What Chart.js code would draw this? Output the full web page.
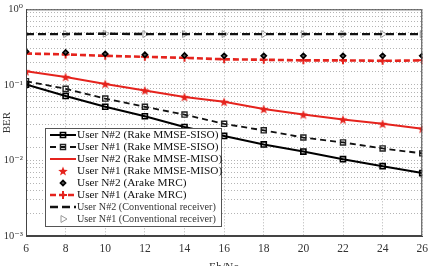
<!DOCTYPE html>
<html>
<head>
<meta charset="utf-8">
<script src="https://cdn.jsdelivr.net/npm/chart.js@4/dist/chart.umd.min.js"></script>
<style>
  html, body { margin: 0; padding: 0; background: #fff; }
</style>
</head>
<body>
<canvas id="berChart" width="434" height="266"></canvas>
<script>
// Eb/No axis (dB)
const ebNo = [6, 8, 10, 12, 14, 16, 18, 20, 22, 24, 26];

// BER curves
const sisoUser2 = [0.101, 0.0713, 0.0513, 0.0384, 0.0277, 0.0211, 0.0163, 0.0131, 0.0104, 0.0084, 0.0068];
const sisoUser1 = [0.112, 0.0887, 0.0658, 0.0513, 0.0404, 0.0305, 0.0250, 0.0201, 0.0173, 0.0144, 0.0124];
const misoUser2 = [0.151, 0.127, 0.103, 0.0843, 0.069, 0.0596, 0.0478, 0.0404, 0.0348, 0.0305, 0.0263];
const misoUser1 = [0.151, 0.127, 0.103, 0.0843, 0.069, 0.0596, 0.0478, 0.0404, 0.0348, 0.0305, 0.0263];
const mrcUser2 = [0.276, 0.268, 0.257, 0.250, 0.244, 0.242, 0.242, 0.242, 0.242, 0.242, 0.242];
const mrcUser1 = [0.260, 0.253, 0.242, 0.235, 0.228, 0.218, 0.215, 0.211, 0.211, 0.208, 0.211];
const convUser2 = [0.47, 0.47, 0.475, 0.47, 0.47, 0.47, 0.47, 0.47, 0.47, 0.47, 0.47];
const convUser1 = [0.47, 0.47, 0.475, 0.47, 0.47, 0.47, 0.47, 0.47, 0.47, 0.47, 0.47];

const labels = [
  "User N#2 (Rake MMSE-SISO)",
  "User N#1 (Rake MMSE-SISO)",
  "User N#2 (Rake MMSE-MISO)",
  "User N#1 (Rake MMSE-MISO)",
  "User N#2 (Arake MRC)",
  "User N#1 (Arake MRC)",
  "User N#2 (Conventional receiver)",
  "User N#1 (Conventional receiver)",
];

const RED = "#e5231d";
const SERIF = "'Liberation Serif', 'DejaVu Serif', serif";

// filled red star used as point style
function makeStar(size, color) {
  const c = document.createElement("canvas");
  c.width = size; c.height = size;
  const g = c.getContext("2d");
  const cx = size / 2, cy = size / 2 + 0.5, ro = size / 2, ri = ro * 0.42;
  g.beginPath();
  for (let i = 0; i < 10; i++) {
    const r = i % 2 === 0 ? ro : ri;
    const a = -Math.PI / 2 + i * Math.PI / 5;
    g.lineTo(cx + r * Math.cos(a), cy + r * Math.sin(a));
  }
  g.closePath();
  g.fillStyle = color;
  g.fill();
  return c;
}
const starImg = makeStar(10, RED);

const sup = { "0": "\u2070", "1": "\u00b9", "2": "\u00b2", "3": "\u00b3", "-": "\u207b" };
function tenPow(e) {
  return "10" + String(e).split("").map(ch => sup[ch]).join("");
}

function pts(arr) {
  return arr.map((v, i) => ({ x: ebNo[i], y: v }));
}

const datasets = [
  { label: labels[0], data: pts(sisoUser2), borderColor: "#000", borderWidth: 2,
    pointStyle: "rect", pointRadius: 3.6, pointBorderWidth: 1.6, pointBorderColor: "#000", pointBackgroundColor: "rgba(0,0,0,0)" },
  { label: labels[1], data: pts(sisoUser1), borderColor: "#111", borderWidth: 1.8, borderDash: [6, 4],
    pointStyle: "rect", pointRadius: 3.6, pointBorderWidth: 1.4, pointBorderColor: "#222", pointBackgroundColor: "rgba(0,0,0,0)" },
  { label: labels[2], data: pts(misoUser2), borderColor: RED, borderWidth: 2, pointRadius: 0 },
  { label: labels[3], data: pts(misoUser1), showLine: false, pointStyle: starImg, pointRadius: 5 },
  { label: labels[4], data: pts(mrcUser2), showLine: false, pointStyle: "rectRot", pointRadius: 2.6,
    pointBorderWidth: 1.6, pointBorderColor: "#000", pointBackgroundColor: "#555" },
  { label: labels[5], data: pts(mrcUser1), borderColor: RED, borderWidth: 2.6, borderDash: [6, 3],
    pointStyle: "cross", pointRadius: 4, pointBorderWidth: 2, pointBorderColor: RED },
  { label: labels[6], data: pts(convUser2), borderColor: "#111", borderWidth: 2.4, borderDash: [8, 4], pointRadius: 0 },
  { label: labels[7], data: pts(convUser1), showLine: false, pointStyle: "triangle", pointRotation: 90,
    pointRadius: 4, pointBorderWidth: 1, pointBorderColor: "#999", pointBackgroundColor: "rgba(0,0,0,0)" },
];

// box around the axes
const frame = {
  id: "frame",
  afterDatasetsDraw(chart) {
    const { ctx, chartArea: a } = chart;
    ctx.save();
    ctx.strokeStyle = "#444";
    ctx.lineWidth = 1;
    ctx.strokeRect(a.left + 0.5, a.top + 0.5, a.right - a.left - 1, a.bottom - a.top - 1);
    ctx.restore();
  },
};

// MATLAB-like legend inside the axes
const boxLegend = {
  id: "boxLegend",
  afterDraw(chart) {
    const ctx = chart.ctx;
    const x0 = 45, y0 = 128, w = 176, h = 98, row = 12;
    ctx.save();
    ctx.fillStyle = "#fff";
    ctx.fillRect(x0, y0, w, h);
    ctx.strokeStyle = "#555";
    ctx.lineWidth = 1;
    ctx.strokeRect(x0 + 0.5, y0 + 0.5, w, h);

    chart.data.datasets.forEach((ds, i) => {
      const y = y0 + 7 + i * row;
      if (ds.showLine !== false && ds.borderWidth) {
        ctx.save();
        ctx.strokeStyle = ds.borderColor;
        ctx.lineWidth = ds.borderWidth;
        ctx.setLineDash(ds.borderDash || []);
        ctx.beginPath();
        ctx.moveTo(50, y);
        ctx.lineTo(76, y);
        ctx.stroke();
        ctx.restore();
      }
      if (ds.pointRadius) {
        ctx.save();
        ctx.strokeStyle = ds.pointBorderColor || "#000";
        ctx.fillStyle = ds.pointBackgroundColor || "rgba(0,0,0,0)";
        ctx.lineWidth = ds.pointBorderWidth || 1;
        Chart.helpers.drawPoint(ctx, {
          pointStyle: ds.pointStyle,
          rotation: ds.pointRotation || 0,
          radius: ds.pointRadius,
          borderWidth: ds.pointBorderWidth || 1,
        }, 63, y);
        ctx.restore();
      }
      ctx.fillStyle = i >= 6 ? "#333" : "#111";
      ctx.font = (i >= 6 ? "10.2px " : "11.3px ") + SERIF;
      ctx.textBaseline = "middle";
      ctx.fillText(ds.label, 77, y + 0.5);
    });
    ctx.restore();
  },
};

new Chart(document.getElementById("berChart"), {
  type: "line",
  data: { datasets },
  options: {
    responsive: false,
    animation: false,
    events: [],
    layout: { padding: { top: 5, right: 7, left: 0, bottom: 0 } },
    plugins: { legend: { display: false }, tooltip: { enabled: false } },
    scales: {
      x: {
        type: "linear",
        min: 6,
        max: 26,
        afterFit: (s) => { s.height = 30; },
        ticks: { stepSize: 2, color: "#333", padding: 6, font: { family: SERIF, size: 11.5 } },
        grid: { color: "#b4b4b4", lineWidth: 1, drawTicks: false },
        border: { display: true, color: "#444", dash: [1, 2] },
        title: { display: true, text: "Eb/No", color: "#333", font: { family: SERIF, size: 11.5 },
                 padding: { top: 0, bottom: -9 } },
      },
      y: {
        type: "logarithmic",
        min: 0.001,
        max: 1,
        afterFit: (s) => { s.width = 26; },
        ticks: {
          autoSkip: false,
          color: "#333",
          padding: 3,
          font: { family: SERIF, size: 10.5 },
          callback: (v) => {
            const e = Math.log10(v);
            return Math.abs(e - Math.round(e)) < 1e-9 ? tenPow(Math.round(e)) : "";
          },
        },
        grid: { color: "#b4b4b4", lineWidth: 1, drawTicks: false },
        border: { display: true, color: "#444", dash: [1, 2] },
        title: { display: true, text: "BER", color: "#333", font: { family: SERIF, size: 11 },
                 padding: { top: 1, bottom: 0 } },
      },
    },
  },
  plugins: [frame, boxLegend],
});
</script>
</body>
</html>
